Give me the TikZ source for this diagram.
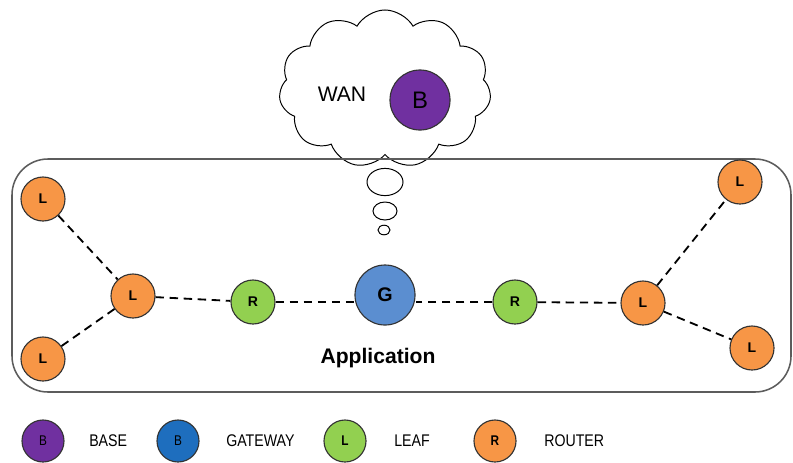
\documentclass[tikz,border=0pt]{standalone}
\usepackage{fontspec}
\setmainfont{Liberation Sans}
\newfontfamily\legendfont[FakeStretch=0.84]{Liberation Sans}
\usetikzlibrary{shapes.symbols,shapes.geometric}

\definecolor{leaforange}{HTML}{F79646}
\definecolor{routergreen}{HTML}{92D050}
\definecolor{gwblue}{HTML}{5B8ED0}
\definecolor{legblue}{HTML}{1E6EBE}
\definecolor{basepurple}{HTML}{7030A0}
\definecolor{edgegray}{HTML}{333333}

\tikzset{
  dev/.style={circle, draw=edgegray, line width=0.8pt, inner sep=0pt,
    minimum size=1.1cm, font=\bfseries\fontsize{10}{11}\selectfont},
  leafnode/.style={dev, fill=leaforange},
  routernode/.style={dev, fill=routergreen},
  link/.style={dashed, dash pattern=on 6pt off 4pt, line width=1.3pt, black},
  legdot/.style={circle, draw=edgegray, line width=0.8pt, inner sep=0pt,
    minimum width=1.05cm, minimum height=1.05cm, font=\legendfont\fontsize{10}{11}\selectfont},
  legtext/.style={anchor=west, inner sep=0pt, font=\legendfont\fontsize{12}{13}\selectfont},
  bubble/.style={ellipse, draw=black, line width=0.7pt, inner sep=0pt}
}

\begin{document}
\begin{tikzpicture}[x=0.025cm, y=-0.025cm]
\useasboundingbox (0,0) rectangle (793,462);

% WAN cloud with the base station
\node[cloud, draw=black, line width=0.7pt, fill=white, cloud puffs=11, cloud puff arc=120,
  aspect=1.4, minimum width=5.3cm, minimum height=3.95cm] (wan) at (385,89) {};
\node[font=\fontsize{15}{16}\selectfont] (wantext) at (342,94) {WAN};
\node[circle, draw=edgegray, line width=0.8pt, fill=basepurple, minimum size=1.5cm,
  inner sep=0pt, font=\fontsize{17}{18}\selectfont] (base) at (420,100) {B};

% thought bubbles
\path (385,182) node[bubble, minimum width=0.9cm, minimum height=0.68cm] (t1) {};
\path (385,211) node[bubble, minimum width=0.6cm, minimum height=0.45cm] (t2) {};
\path (384,230) node[bubble, minimum width=0.3cm, minimum height=0.24cm] (t3) {};

% application area
\draw[draw=edgegray!80, line width=1.1pt, rounded corners=0.9cm] (12,159) rectangle (791,392);
\node[font=\bfseries\fontsize{15}{16}\selectfont] (app) at (378,358) {Application};

% devices
\node[leafnode] (l1) at (43,199) {L};
\node[leafnode] (l2) at (133,296) {L};
\node[leafnode] (l3) at (43,359) {L};
\node[routernode] (r1) at (253,302) {R};
\node[circle, draw=edgegray, line width=0.8pt, fill=gwblue, minimum size=1.5cm, inner sep=0pt,
  font=\bfseries\fontsize{14}{15}\selectfont] (g) at (385,295) {G};
\node[routernode] (r2) at (515,302) {R};
\node[leafnode] (l4) at (643,303) {L};
\node[leafnode] (l5) at (740,182) {L};
\node[leafnode] (l6) at (752,348) {L};

% links (the routers meet the gateway with level lines)
\draw[link] (l1) -- (l2);
\draw[link] (l3) -- (l2);
\draw[link] (l2) -- (r1);
\draw[link] (r1) -- (r1 -| g.west);
\draw[link] (r2) -- (r2 -| g.east);
\draw[link] (r2) -- (l4);
\draw[link] (l4) -- (l5);
\draw[link] (l4) -- (l6);

% legend
\node[legdot, fill=basepurple] (kb) at (43,441) {B};
\node[legtext] (kbt) at (89,441) {BASE};
\node[legdot, fill=legblue] (kg) at (178,441) {B};
\node[legtext] (kgt) at (226,441) {GATEWAY};
\node[legdot, fill=routergreen, font=\legendfont\bfseries\fontsize{10}{11}\selectfont] (kl) at (345,441) {L};
\node[legtext] (klt) at (394,441) {LEAF};
\node[legdot, fill=leaforange, font=\legendfont\bfseries\fontsize{10}{11}\selectfont] (kr) at (495,441) {R};
\node[legtext] (krt) at (544,441) {ROUTER};
\end{tikzpicture}
\end{document}
